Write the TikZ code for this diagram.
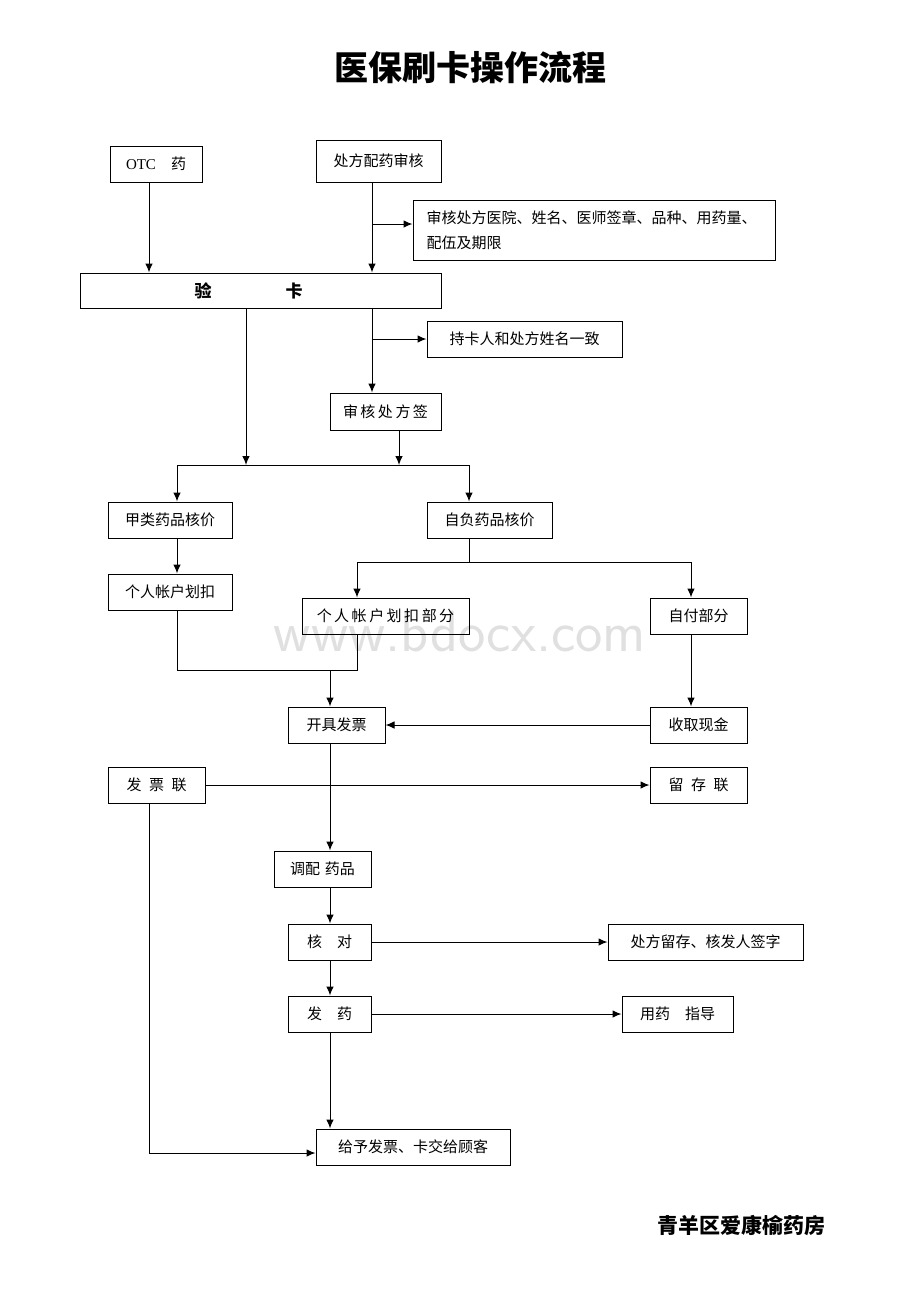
\documentclass[tikz,border=0pt]{standalone}
\usepackage{fontspec}
\setmainfont{Liberation Serif}
\newfontfamily\cjk{Noto Sans CJK SC}
\usepackage{tikz}
\usetikzlibrary{
  arrows.meta,
  calc
}
\tikzset{>={Latex[length=9pt,width=7.5pt]}}
\tikzset{
  box/.style={draw,line width=1pt,inner sep=0pt,minimum height=36pt,
    font=\cjk\fontsize{15}{18}\selectfont},
  link/.style={line width=1pt}
}

\begin{document}
\begin{tikzpicture}[x=1pt,y=-1pt,link]
\useasboundingbox (0,0) rectangle (920,1302);
\node[font=\cjk\bfseries\fontsize{34}{40}\selectfont] (title) at (470,68) {医保刷卡操作流程};
\node[font=\sffamily\fontsize{58}{60}\selectfont,text=black!12] (wm) at (460,632) {www.bdocx.com};
% top row
\node[box,minimum width=92] (otc) at (156,164) {{\rmfamily OTC}\quad 药};
\node[box,minimum width=125,minimum height=42] (rx) at (378.5,161) {处方配药审核};
\node[box,minimum width=362,minimum height=60,text width=335pt,inner xsep=13.5pt,align=left,
  font=\cjk\fontsize{15}{25}\selectfont] (chk) at (594,230) {审核处方医院、姓名、医师签章、品种、用药量、\\配伍及期限};
\node[box,minimum width=361,minimum height=35,font=\cjk\bfseries\fontsize{17}{18}\selectfont] (card) at (260.5,290.5) {验\hspace{74pt}卡\hspace*{24pt}\null};
\node[box,minimum width=195] (name) at (524.5,339) {持卡人和处方姓名一致};
\node[box,minimum width=111,minimum height=37] (sign) at (385.5,411.5) {审\,核\,处\,方\,签};
% pricing
\node[box,minimum width=124] (jia) at (170,520) {甲类药品核价};
\node[box,minimum width=125] (zifu) at (489.5,520) {自负药品核价};
\node[box,minimum width=124] (acct) at (170,592) {个人帐户划扣};
\node[box,minimum width=167] (part) at (385.5,616) {个\,人\,帐\,户\,划\,扣\,部\,分};
\node[box,minimum width=97] (self) at (698.5,616) {自付部分};
\node[box,minimum width=97] (inv) at (336.5,725) {开具发票};
\node[box,minimum width=97] (cash) at (698.5,725) {收取现金};
\node[box,minimum width=97] (fpl) at (156.5,785) {发\enspace 票\enspace 联};
\node[box,minimum width=97] (keep) at (698.5,785) {留\enspace 存\enspace 联};
% dispensing
\node[box,minimum width=97] (mix) at (322.5,869) {调配\,\,药品};
\node[box,minimum width=83] (dbl) at (329.5,942) {核\quad 对};
\node[box,minimum width=195] (store) at (705.5,942) {处方留存、核发人签字};
\node[box,minimum width=83] (give) at (329.5,1014) {发\quad 药};
\node[box,minimum width=111] (guide) at (677.5,1014) {用药\quad 指导};
\node[box,minimum width=194] (last) at (413,1147) {给予发票、卡交给顾客};
\node[font=\cjk\bfseries\fontsize{21}{24}\selectfont] (shop) at (741,1226) {青羊区爱康榆药房};

\coordinate (c0) at (149,224);
\coordinate (c1) at (372,224);
\coordinate (c2) at (372,339);
\coordinate (m1) at (246,465);
\coordinate (m2) at (399,465);
\coordinate (b1) at (177,465);
\coordinate (b2) at (469,465);
\coordinate (s0) at (469,562);
\coordinate (s1) at (357,562);
\coordinate (s2) at (691,562);
\coordinate (j1) at (177,670);
\coordinate (j2) at (357,670);
\coordinate (j3) at (330,670);
\coordinate (f1) at (149,1153);

\draw[->] (otc.south -| c0) -- (card.north -| c0);
\draw[->] (rx.south -| c1) -- (card.north -| c1);
\draw[->] (c1) -- (chk.west |- c1);
\draw[->] (card.south -| c2) -- (sign.north -| c2);
\draw[->] (c2) -- (name.west |- c2);
\draw[->] (card.south -| m1) -- (m1);
\draw[->] (sign.south -| m2) -- (m2);
\draw (b1) -- (b2);
\draw[->] (b1) -- (jia.north -| b1);
\draw[->] (b2) -- (zifu.north -| b2);
\draw[->] (jia.south -| b1) -- (acct.north -| b1);
\draw (zifu.south -| s0) -- (s0);
\draw (s1) -- (s2);
\draw[->] (s1) -- (part.north -| s1);
\draw[->] (s2) -- (self.north -| s2);
\draw (acct.south -| j1) -- (j1) -- (j2) -- (part.south -| j2);
\draw[->] (j3) -- (inv.north -| j3);
\draw[->] (self.south -| s2) -- (cash.north -| s2);
\draw[->] (cash) -- (inv);
\draw[->] (fpl) -- (keep);
\draw[->] (inv.south -| j3) -- (mix.north -| j3);
\draw[->] (mix.south -| j3) -- (dbl.north -| j3);
\draw[->] (dbl) -- (store);
\draw[->] (dbl.south -| j3) -- (give.north -| j3);
\draw[->] (give) -- (guide);
\draw[->] (give.south -| j3) -- (last.north -| j3);
\draw[->] (fpl.south -| f1) -- (f1) -- (last.west |- f1);
\end{tikzpicture}
\end{document}
